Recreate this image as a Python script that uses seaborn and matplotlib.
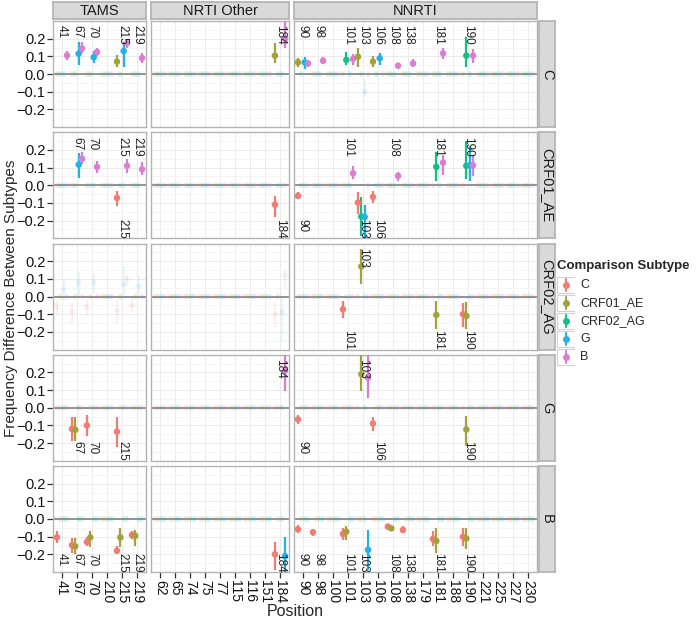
import numpy as np
import pandas as pd
import matplotlib
matplotlib.use('Agg')
import matplotlib.pyplot as plt
import seaborn as sns
from matplotlib.patches import Rectangle

# ── DATA ───────────────────────────────────────────────────────
rows   = ['C', 'CRF01_AE', 'CRF02_AG', 'G', 'B']
comps  = ['C', 'CRF01_AE', 'CRF02_AG', 'G', 'B']
groups = ['TAMS', 'NRTI Other', 'NNRTI']

tams_pos  = ['41', '67', '70', '210', '215', '219']
nrti_pos  = ['62', '65', '74', '75', '77', '115', '116', '151', '184']
nnrti_pos = ['90', '98', '100', '101', '103', '106', '108', '138', '179',
             '181', '188', '190', '221', '225', '227', '230']

# significant comparisons: (group, position, comparison, diff, low, high)
sig_C = [
    ('TAMS', '41', 'B', 0.105, 0.08, 0.13),
    ('TAMS', '67', 'G', 0.115, 0.05, 0.18), ('TAMS', '67', 'B', 0.145, 0.12, 0.18),
    ('TAMS', '70', 'G', 0.095, 0.06, 0.13), ('TAMS', '70', 'B', 0.125, 0.10, 0.15),
    ('TAMS', '215', 'CRF01_AE', 0.07, 0.04, 0.11), ('TAMS', '215', 'G', 0.13, 0.04, 0.18),
    ('TAMS', '215', 'B', 0.175, 0.15, 0.20),
    ('TAMS', '219', 'B', 0.09, 0.06, 0.12),
    ('NRTI Other', '184', 'CRF01_AE', 0.104, 0.065, 0.175),
    ('NRTI Other', '184', 'B', 0.20, 0.15, 0.31),
    ('NNRTI', '90', 'CRF01_AE', 0.066, 0.04, 0.09), ('NNRTI', '90', 'G', 0.066, 0.03, 0.095),
    ('NNRTI', '90', 'B', 0.06, 0.04, 0.08),
    ('NNRTI', '98', 'B', 0.075, 0.055, 0.095),
    ('NNRTI', '101', 'CRF02_AG', 0.08, 0.05, 0.126), ('NNRTI', '101', 'B', 0.085, 0.05, 0.115),
    ('NNRTI', '103', 'CRF01_AE', 0.098, 0.04, 0.145),
    ('NNRTI', '106', 'CRF01_AE', 0.07, 0.04, 0.10), ('NNRTI', '106', 'G', 0.089, 0.05, 0.12),
    ('NNRTI', '108', 'B', 0.047, 0.03, 0.065),
    ('NNRTI', '138', 'B', 0.06, 0.04, 0.085),
    ('NNRTI', '181', 'B', 0.117, 0.085, 0.15),
    ('NNRTI', '190', 'CRF02_AG', 0.104, 0.04, 0.21), ('NNRTI', '190', 'B', 0.104, 0.06, 0.14),
]
sig_CRF01_AE = [
    ('TAMS', '67', 'G', 0.117, 0.04, 0.18), ('TAMS', '67', 'B', 0.15, 0.12, 0.19),
    ('TAMS', '70', 'B', 0.104, 0.07, 0.14),
    ('TAMS', '215', 'C', -0.072, -0.12, -0.03), ('TAMS', '215', 'B', 0.11, 0.07, 0.15),
    ('TAMS', '219', 'B', 0.09, 0.06, 0.13),
    ('NRTI Other', '184', 'C', -0.11, -0.18, -0.06),
    ('NNRTI', '90', 'C', -0.06, -0.08, -0.04),
    ('NNRTI', '101', 'B', 0.068, 0.035, 0.11),
    ('NNRTI', '103', 'C', -0.098, -0.16, -0.04), ('NNRTI', '103', 'CRF02_AG', -0.177, -0.29, -0.065),
    ('NNRTI', '103', 'G', -0.18, -0.30, -0.11),
    ('NNRTI', '106', 'C', -0.066, -0.10, -0.03),
    ('NNRTI', '108', 'B', 0.053, 0.025, 0.075),
    ('NNRTI', '181', 'CRF02_AG', 0.104, 0.025, 0.19), ('NNRTI', '181', 'B', 0.128, 0.06, 0.17),
    ('NNRTI', '190', 'CRF02_AG', 0.11, 0.035, 0.25), ('NNRTI', '190', 'G', 0.113, 0.025, 0.22),
    ('NNRTI', '190', 'B', 0.113, 0.05, 0.17),
]
sig_CRF02_AG = [
    ('NNRTI', '101', 'C', -0.072, -0.12, -0.025),
    ('NNRTI', '103', 'CRF01_AE', 0.17, 0.07, 0.27),
    ('NNRTI', '181', 'CRF01_AE', -0.105, -0.185, -0.025),
    ('NNRTI', '190', 'C', -0.10, -0.175, -0.035), ('NNRTI', '190', 'CRF01_AE', -0.11, -0.185, -0.03),
]
sig_G = [
    ('TAMS', '67', 'C', -0.12, -0.19, -0.05), ('TAMS', '67', 'CRF01_AE', -0.125, -0.19, -0.05),
    ('TAMS', '70', 'C', -0.10, -0.16, -0.04),
    ('TAMS', '215', 'C', -0.135, -0.22, -0.05),
    ('NRTI Other', '184', 'B', 0.21, 0.095, 0.30),
    ('NNRTI', '90', 'C', -0.066, -0.09, -0.04),
    ('NNRTI', '103', 'CRF01_AE', 0.19, 0.094, 0.30), ('NNRTI', '103', 'B', 0.17, 0.057, 0.30),
    ('NNRTI', '106', 'C', -0.089, -0.13, -0.05),
    ('NNRTI', '190', 'CRF01_AE', -0.123, -0.217, -0.047),
]
sig_B = [
    ('TAMS', '41', 'C', -0.104, -0.135, -0.07),
    ('TAMS', '67', 'C', -0.148, -0.19, -0.11), ('TAMS', '67', 'CRF01_AE', -0.155, -0.20, -0.11),
    ('TAMS', '70', 'C', -0.13, -0.155, -0.10), ('TAMS', '70', 'CRF01_AE', -0.104, -0.16, -0.07),
    ('TAMS', '215', 'C', -0.18, -0.20, -0.155), ('TAMS', '215', 'CRF01_AE', -0.104, -0.16, -0.05),
    ('TAMS', '219', 'C', -0.09, -0.115, -0.07), ('TAMS', '219', 'CRF01_AE', -0.095, -0.15, -0.06),
    ('NRTI Other', '184', 'C', -0.20, -0.29, -0.13), ('NRTI Other', '184', 'G', -0.21, -0.30, -0.10),
    ('NNRTI', '90', 'C', -0.058, -0.08, -0.035),
    ('NNRTI', '98', 'C', -0.075, -0.095, -0.055),
    ('NNRTI', '101', 'C', -0.085, -0.12, -0.05), ('NNRTI', '101', 'CRF01_AE', -0.072, -0.12, -0.04),
    ('NNRTI', '103', 'G', -0.175, -0.29, -0.06),
    ('NNRTI', '108', 'C', -0.043, -0.06, -0.03), ('NNRTI', '108', 'CRF01_AE', -0.053, -0.07, -0.035),
    ('NNRTI', '138', 'C', -0.062, -0.08, -0.04),
    ('NNRTI', '181', 'C', -0.113, -0.15, -0.07), ('NNRTI', '181', 'CRF01_AE', -0.124, -0.19, -0.05),
    ('NNRTI', '190', 'C', -0.10, -0.15, -0.05), ('NNRTI', '190', 'CRF01_AE', -0.11, -0.17, -0.05),
]

# non-significant comparisons that stand out from zero (drawn faint)
faint_C = [('NNRTI', '103', 'G', -0.10, -0.13, -0.03)]
faint_CRF01_AE = []
faint_CRF02_AG = [
    ('TAMS', '41', 'C', -0.06, -0.10, -0.02), ('TAMS', '41', 'G', 0.04, -0.02, 0.10),
    ('TAMS', '67', 'C', -0.085, -0.15, -0.03), ('TAMS', '67', 'G', 0.08, 0.0, 0.14),
    ('TAMS', '70', 'C', -0.06, -0.11, -0.02), ('TAMS', '70', 'G', 0.08, 0.02, 0.13),
    ('TAMS', '215', 'C', -0.08, -0.15, -0.02), ('TAMS', '215', 'G', 0.07, 0.0, 0.17),
    ('TAMS', '215', 'B', 0.10, 0.06, 0.13),
    ('TAMS', '219', 'C', -0.05, -0.09, -0.01), ('TAMS', '219', 'G', 0.06, 0.0, 0.12),
    ('NRTI Other', '184', 'C', -0.10, -0.17, -0.03), ('NRTI Other', '184', 'G', -0.09, -0.25, 0.0),
    ('NRTI Other', '184', 'B', 0.12, 0.05, 0.15),
]
faint_G = []
faint_B = []
faint_default = (0.0, -0.015, 0.015)   # all other comparisons sit at ~0

sig_lists   = dict(zip(rows, [sig_C, sig_CRF01_AE, sig_CRF02_AG, sig_G, sig_B]))
faint_lists = dict(zip(rows, [faint_C, faint_CRF01_AE, faint_CRF02_AG, faint_G, faint_B]))
positions   = dict(zip(groups, [tams_pos, nrti_pos, nnrti_pos]))

palette = dict(zip(comps, ['#F27C72', '#A3A23A', '#16BD88', '#25B1E6', '#D97FD2']))

# ── BUILD TABLE ────────────────────────────────────────────────
offsets = [-0.3375, -0.1125, 0.1125, 0.3375]
recs = []
for r in rows:
    others = [c for c in comps if c != r]
    sig = {(g, p, c): (v, lo, hi) for g, p, c, v, lo, hi in sig_lists[r]}
    fnt = {(g, p, c): (v, lo, hi) for g, p, c, v, lo, hi in faint_lists[r]}
    for g in groups:
        for i, p in enumerate(positions[g]):
            for k, c in enumerate(others):
                key = (g, p, c)
                if key in sig:
                    v, lo, hi = sig[key]; s = True
                else:
                    v, lo, hi = fnt.get(key, faint_default); s = False
                recs.append(dict(row=r, group=g, pos=p, comp=c, x=i + offsets[k],
                                 xi=i, val=v, lo=lo, hi=hi, sig=s))
df = pd.DataFrame(recs)

# ── PLOT ───────────────────────────────────────────────────────
sns.set_theme(style='white')
plt.rcParams['font.family'] = ['Liberation Sans', 'DejaVu Sans']

W, H = 699, 619
fig = plt.figure(figsize=(W / 100, H / 100), dpi=100)

def box(l, t, w, h):
    return [l / W, 1 - (t + h) / H, w / W, h / H]

col_px = [(53, 93), (151, 138), (294, 243)]
row_top = [21 + i * 111.25 for i in range(5)]
ph = 106
YL = 0.30

for ri, r in enumerate(rows):
    for gi, g in enumerate(groups):
        l, w = col_px[gi]
        ax = fig.add_axes(box(l, row_top[ri], w, ph))
        n = len(positions[g])
        ax.set_xlim(-0.6, n - 0.4)
        ax.set_ylim(-YL, YL)
        ax.set_facecolor('white')
        ax.set_xticks(range(n))
        ax.set_yticks([-0.2, -0.1, 0.0, 0.1, 0.2])
        ax.set_yticks([-0.25, -0.15, -0.05, 0.05, 0.15, 0.25], minor=True)
        ax.grid(True, which='major', color='#EBEBEB', lw=0.7, zorder=0)
        ax.grid(True, which='minor', axis='y', color='#F5F5F5', lw=0.7, zorder=0)
        ax.axhline(0, color='#8A8A8A', lw=1.3, zorder=1)
        for s in ax.spines.values():
            s.set_color('#B3B3B3'); s.set_linewidth(1.0)

        sub = df[(df.row == r) & (df.group == g)]
        fa = sub[~sub.sig]
        ax.vlines(fa.x, fa.lo, fa.hi, colors=[palette[c] for c in fa.comp],
                  alpha=0.1, lw=1.5, zorder=2)
        sns.scatterplot(data=fa, x='x', y='val', hue='comp', palette=palette, ax=ax,
                        legend=False, s=16, alpha=0.1, edgecolor='none', zorder=2)
        sg = sub[sub.sig]
        if len(sg):
            ax.vlines(sg.x, sg.lo.clip(-YL, YL), sg.hi.clip(-YL, YL),
                      colors=[palette[c] for c in sg.comp], lw=1.6, zorder=3)
            sns.scatterplot(data=sg, x='x', y='val', hue='comp', palette=palette, ax=ax,
                            legend=False, s=22, edgecolor='none', zorder=4)
            # position labels above / below the zero line
            lab = sg.assign(up=sg.val > 0).drop_duplicates(['xi', 'up'])
            for _, t in lab.iterrows():
                ax.text(t.xi, 0.275 if t.up else -0.19, t.pos, rotation=270,
                        ha='center', va='top', fontsize=8.5, color='#222222', zorder=5)

        ax.set_xlabel(''); ax.set_ylabel('')
        if gi == 0:
            ax.set_yticklabels(['\u22120.2', '\u22120.1', '0.0', '0.1', '0.2'], fontsize=10.5,
                               color='#111111')
            ax.tick_params(axis='y', which='major', left=True, length=4, width=0.9,
                           color='#333333', pad=1.5)
        else:
            ax.tick_params(axis='y', labelleft=False, left=False)
        ax.tick_params(axis='y', which='minor', left=False)
        if ri == len(rows) - 1:
            ax.set_xticklabels(positions[g], rotation=270, fontsize=10, color='#111111')
            ax.tick_params(axis='x', bottom=True, length=4, width=0.9,
                           color='#333333', pad=2)
        else:
            ax.tick_params(axis='x', labelbottom=False, bottom=False)

# facet strips
for gi, g in enumerate(groups):
    l, w = col_px[gi]
    sa = fig.add_axes(box(l, 2, w, 17))
    sa.set_facecolor('#D9D9D9'); sa.set_xticks([]); sa.set_yticks([])
    for s in sa.spines.values():
        s.set_color('#B3B3B3')
    sa.text(0.5, 0.45, g, ha='center', va='center', fontsize=10.5, color='#1A1A1A',
            transform=sa.transAxes)
for ri, r in enumerate(rows):
    sa = fig.add_axes(box(539, row_top[ri], 16, ph))
    sa.set_facecolor('#D9D9D9'); sa.set_xticks([]); sa.set_yticks([])
    for s in sa.spines.values():
        s.set_color('#B3B3B3')
    sa.text(0.5, 0.5, r, ha='center', va='center', rotation=270, fontsize=10.5,
            color='#1A1A1A', transform=sa.transAxes)

fig.text(295 / W, 1 - 612 / H, 'Position', ha='center', va='center', fontsize=11.5)
fig.text(11 / W, 1 - 298 / H, 'Frequency Difference Between Subtypes', ha='center',
         va='center', rotation=90, fontsize=11)

# legend
fig.text(557 / W, 1 - 266 / H, 'Comparison Subtype', ha='left', va='center',
         fontsize=9.5, fontweight='bold')
la = fig.add_axes(box(557, 276, 18, 90))
la.set_xlim(0, 1); la.set_ylim(5, 0); la.axis('off')
for k, c in enumerate(comps):
    la.add_patch(Rectangle((0.02, k + 0.03), 0.96, 0.94, facecolor='white',
                           edgecolor='#D0D0D0', lw=0.8))
    la.plot([0.5, 0.5], [k + 0.15, k + 0.85], color=palette[c], lw=1.5)
    la.scatter([0.5], [k + 0.5], color=palette[c], s=16, zorder=3)
    fig.text(580 / W, 1 - (276 + 18 * k + 9) / H, c, ha='left', va='center', fontsize=9)

plt.savefig('out.png', dpi=100)
